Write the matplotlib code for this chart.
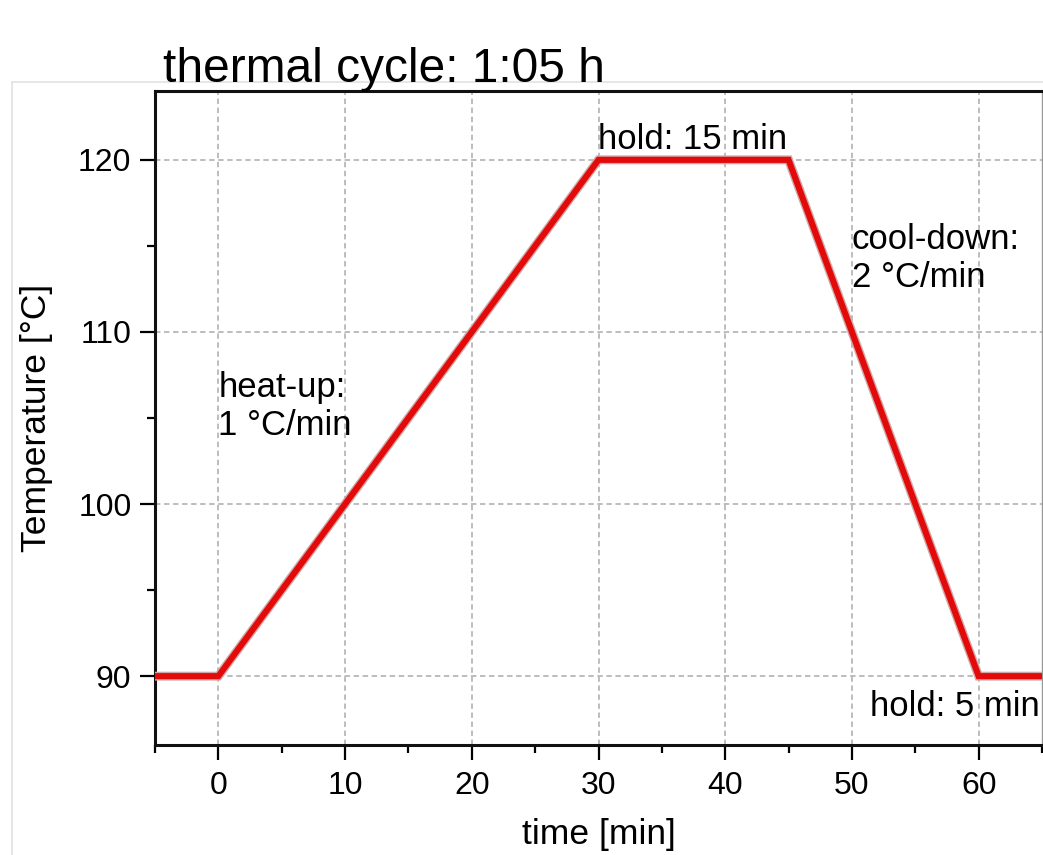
import matplotlib
matplotlib.use("Agg")
import matplotlib.pyplot as plt
from matplotlib.ticker import MultipleLocator
from matplotlib.lines import Line2D
import matplotlib.patheffects as pe

plt.rcParams['font.family'] = ['Liberation Sans', 'DejaVu Sans']

time_min = [-5, 0, 30, 45, 60, 65]
temp_c = [90, 90, 120, 120, 90, 90]
x_ticks = [0, 10, 20, 30, 40, 50, 60]
y_ticks = [90, 100, 110, 120]

fig = plt.figure(figsize=(10.43, 8.55), dpi=100)
ax = fig.add_axes([155/1043, 1-745/855, 887/1043, (745-91)/855])

# light frame behind
fig.add_artist(Line2D([12/1043, 1.0], [1-82/855, 1-82/855], color='#e2e2e2', lw=1.2))
fig.add_artist(Line2D([12/1043, 12/1043], [0, 1-82/855], color='#e2e2e2', lw=1.2))

ax.plot(time_min, temp_c, color='#e30a0a', lw=4.4, solid_joinstyle='miter', zorder=3,
        path_effects=[pe.Stroke(linewidth=6.4, foreground='#d0a8a8'), pe.Normal()])
ax.set_xlim(-5, 65)
ax.set_ylim(86, 124)
ax.set_xticks(x_ticks)
ax.set_yticks(y_ticks)
ax.xaxis.set_minor_locator(MultipleLocator(5))
ax.yaxis.set_minor_locator(MultipleLocator(5))
ax.grid(True, which='major', color='#b8b8b8', ls=(0, (3, 2)), lw=1.3)
ax.tick_params(which='major', direction='out', length=11, width=1.6, labelsize=23, pad=6)
ax.tick_params(which='minor', direction='out', length=6, width=1.6)
ax.tick_params(axis='x', which='major', pad=8)
ax.tick_params(top=False, right=False)
for s in ['left', 'bottom', 'top']:
    ax.spines[s].set_linewidth(2.2)
    ax.spines[s].set_color('#111111')
ax.spines['right'].set_color('#999999')
ax.spines['right'].set_linewidth(1)

ax.set_xlabel('time [min]', fontsize=25.5, labelpad=12)
ax.set_ylabel('Temperature [°C]', fontsize=25.5, labelpad=18)

fig.text(163/1043, 1-82/855, 'thermal cycle: 1:05 h', fontsize=34.5, va='baseline', ha='left')

ax.text(30, 120.65, 'hold: 15 min', fontsize=25, ha='left', va='baseline')
ax.text(50, 112.6, 'cool-down:\n2 °C/min', fontsize=25, ha='left', va='baseline', linespacing=1.2)
ax.text(0, 104.0, 'heat-up:\n1 °C/min', fontsize=25, ha='left', va='baseline', linespacing=1.2)
ax.text(64.8, 87.7, 'hold: 5 min', fontsize=25, ha='right', va='baseline')

fig.savefig('out.png', dpi=100)
